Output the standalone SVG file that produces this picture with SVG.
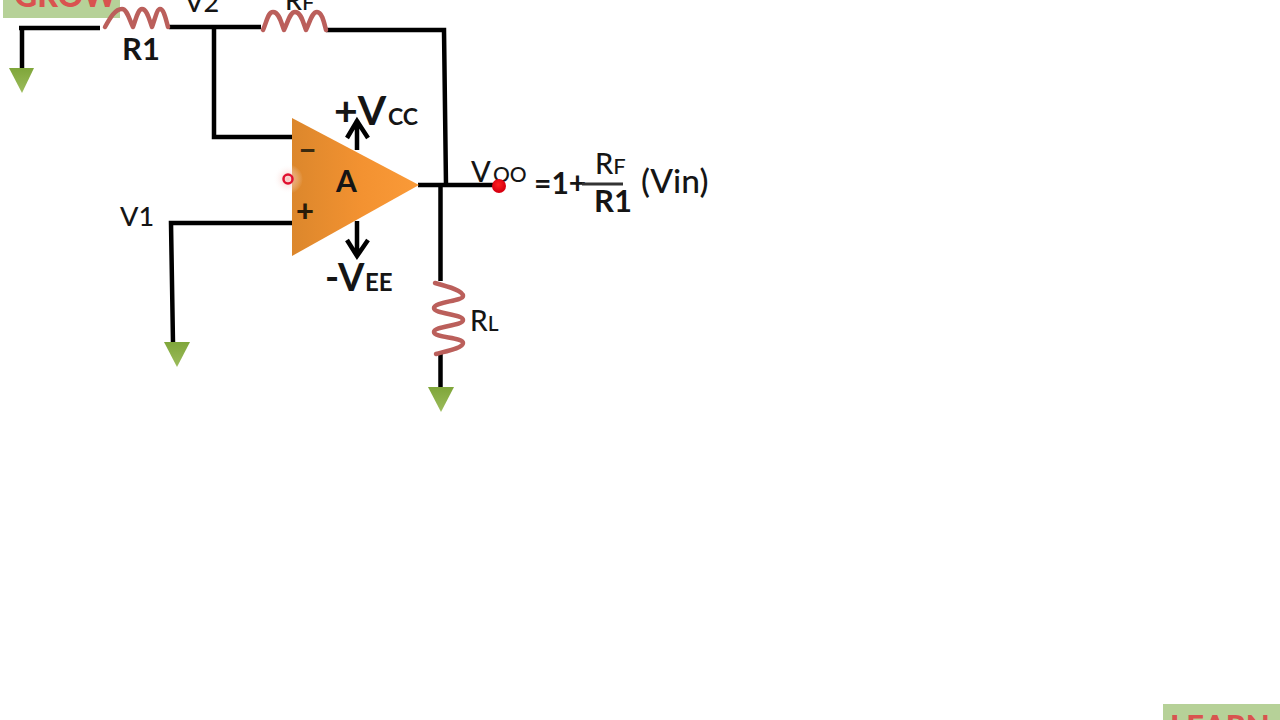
<svg xmlns="http://www.w3.org/2000/svg" width="1280" height="720" viewBox="0 0 1280 720">
<style>
text{font-family:Lato,"Open Sans","Liberation Sans",sans-serif;fill:#151515;font-weight:500}
.b{font-weight:700}
.h{font-weight:900}
.red{fill:#d9534f}
.w{fill:none;stroke:#000;stroke-width:4.5}
.r{fill:none;stroke:#bb5f5b;stroke-width:4.5;stroke-linejoin:round;stroke-linecap:round}
.ar{fill:none;stroke:#000;stroke-width:4.5}
</style>
<defs>
<linearGradient id="og" x1="0" x2="1" y1="0" y2="0"><stop offset="0" stop-color="#dc872c"/><stop offset=".55" stop-color="#f39231"/><stop offset="1" stop-color="#fa9a38"/></linearGradient>
<linearGradient id="gg" x1="0" x2="0" y1="0" y2="1"><stop offset="0" stop-color="#7fa63a"/><stop offset="1" stop-color="#9cbc5c"/></linearGradient>
<radialGradient id="halo"><stop offset="0" stop-color="#f3b0a8" stop-opacity=".8"/><stop offset="1" stop-color="#fff" stop-opacity="0"/></radialGradient>
<radialGradient id="dot" cx=".45" cy=".4"><stop offset="0" stop-color="#ff2020"/><stop offset="1" stop-color="#d80010"/></radialGradient>
</defs>
<rect width="1280" height="720" fill="#fff"/>
<g id="banner-grow"><rect x="3" y="-5" width="117" height="23" fill="#b6d198"/><text x="14" y="7" font-size="32" class="h red">GROW</text></g>
<g id="banner-learn"><rect x="1163" y="704" width="117" height="24" fill="#b6d198"/><text x="1170" y="737" font-size="31" class="h red">LEARN</text></g>
<g id="connectors">
<path class="w" d="M100 28H19M22 26V70"/>
<path class="w" d="M169 27H261M214 25V137H292"/>
<path class="w" d="M326 30H444L446 185"/>
<path class="w" d="M418 185H498"/>
<path class="w" d="M440.500 185V281"/>
<path class="w" d="M440.500 352V390"/>
<path class="w" d="M292 223H171L173 343"/>
<path class="ar" d="M357 150V120M347 138L357 121L368 138"/>
<path class="ar" d="M357 221V256M347 240L357 256L368 240"/>
</g>
<g id="r1"><path class="r" d="M105 27C110 18 115 9 122 9C127 9 129 19 133 27C136 19 138 9 142 9C147 9 149 19 152 27C155 19 157 9 160 9C164 9 166 20 168 27"/><text x="122" y="60" font-size="31" class="b">R1</text></g>
<g id="rf"><path class="r" d="M263 30C267 21 268 12 273 12C279 12 281 22 284 30C288 22 290 12 295 12C301 12 303 22 306 30C310 22 312 12 317 12C322 12 324 22 326 30"/><text x="285" y="10" font-size="27">R<tspan font-size="22">F</tspan></text></g>
<g id="rl"><path class="r" d="M435 283C450 287 463 291 463 296C463 301 434 302 434 308C434 314 463 314 463 320C463 326 434 326 434 332C434 338 463 337 463 343C463 348 447 351 436 354"/><text x="470" y="331" font-size="28">R<tspan font-size="21">L</tspan></text></g>
<g id="label-v2"><text x="185" y="12" font-size="27">V2</text></g>
<g id="label-v1"><text x="120" y="226" font-size="27">V1</text></g>
<g id="opamp">
<path d="M292 118L419 185L292 256Z" fill="url(#og)"/>
<text x="298" y="160" font-size="33" class="h" style="fill:#3a2a10">–</text>
<text x="296" y="222" font-size="31" class="h" style="fill:#2a1c08">+</text>
<text x="336" y="192" font-size="30" class="b">A</text>
</g>
<g id="label-vcc"><text x="334" y="125" font-size="41" class="b">+V<tspan x="388" font-size="23">CC</tspan></text></g>
<g id="label-vee"><text x="325" y="291" font-size="38" class="b">-V<tspan x="365" font-size="24">EE</tspan></text></g>
<g id="pointer"><circle cx="288" cy="179" r="15" fill="url(#halo)"/><circle cx="288" cy="179" r="4.500" fill="none" stroke="#e01030" stroke-width="2.500"/></g>
<g id="gnd1"><path d="M9 68H34L22 93Z" fill="url(#gg)"/></g>
<g id="gnd2"><path d="M164 342H190L177 367Z" fill="url(#gg)"/></g>
<g id="gnd3"><path d="M428 387H454L441 412Z" fill="url(#gg)"/></g>
<g id="vout"><text x="471" y="182" font-size="29">V<tspan x="493" font-size="21">OO</tspan></text><circle cx="499" cy="186" r="7" fill="url(#dot)"/></g>
<g id="equation">
<text x="534" y="194" font-size="30" class="b">=1+</text>
<text x="595" y="174" font-size="29">R<tspan font-size="22">F</tspan></text>
<path d="M582 184H623" stroke="#333" stroke-width="3" fill="none"/>
<text x="594" y="212" font-size="31" class="b">R1</text>
<text x="641" y="193" font-size="33.500">(Vin)</text>
</g>
</svg>
